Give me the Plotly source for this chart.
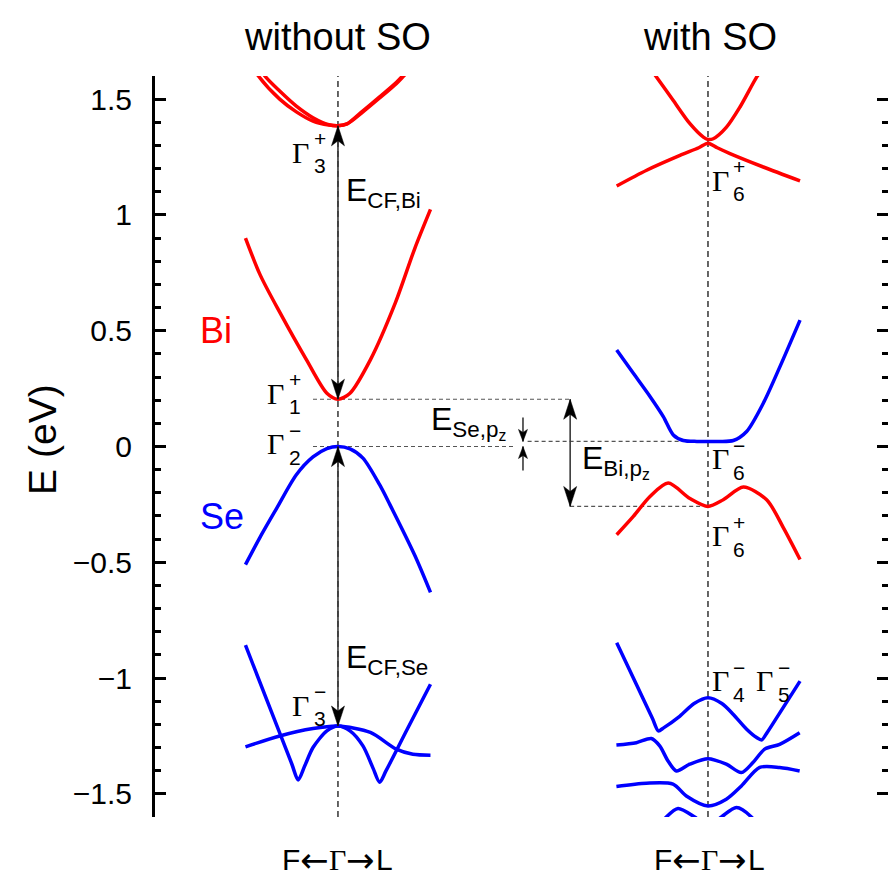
import plotly.graph_objects as go

# ---------------- band data (k in units of the Γ–F / Γ–L segment, E in eV) ----------------
# without spin-orbit coupling
k_bi_g3p_a = [-0.95, -0.86, -0.63, -0.45, -0.27, -0.10, 0.0, 0.10, 0.27, 0.45, 0.63, 0.71, 0.78]
e_bi_g3p_a = [1.66, 1.60, 1.50, 1.445, 1.405, 1.388, 1.385, 1.393, 1.445, 1.505, 1.567, 1.60, 1.63]
k_bi_g3p_b = [-0.86, -0.79, -0.63, -0.45, -0.27, -0.10, 0.0, 0.10, 0.27, 0.45, 0.63, 0.71, 0.78]
e_bi_g3p_b = [1.65, 1.60, 1.535, 1.47, 1.42, 1.39, 1.385, 1.394, 1.45, 1.51, 1.572, 1.605, 1.635]

k_bi_g1p = [-1.0, -0.84, -0.63, -0.34, -0.12, 0.0, 0.13, 0.35, 0.62, 0.83, 1.0]
e_bi_g1p = [0.90, 0.74, 0.58, 0.374, 0.23, 0.204, 0.23, 0.374, 0.62, 0.855, 1.024]

k_se_g2m = [-1.0, -0.84, -0.66, -0.45, -0.27, -0.12, 0.0, 0.13, 0.27, 0.45, 0.56, 0.83, 1.0]
e_se_g2m = [-0.51, -0.39, -0.265, -0.122, -0.045, -0.009, 0.0, -0.01, -0.05, -0.165, -0.25, -0.47, -0.63]

k_se_g3m_flat = [-1.0, -0.63, -0.27, 0.0, 0.35, 0.63, 0.81, 1.0]
e_se_g3m_flat = [-1.297, -1.25, -1.218, -1.207, -1.235, -1.307, -1.329, -1.333]

k_se_g3m_w = [-1.0, -0.72, -0.50, -0.43, -0.36, -0.27, -0.12, 0.0, 0.13, 0.27, 0.38, 0.45, 0.52, 0.75, 1.0]
e_se_g3m_w = [-0.858, -1.145, -1.37, -1.44, -1.38, -1.30, -1.228, -1.207, -1.228, -1.293, -1.39, -1.45, -1.40, -1.22, -1.027]

# with spin-orbit coupling
k_so_bi_up = [-0.62, -0.555, -0.375, -0.195, -0.05, 0.0, 0.057, 0.2, 0.346, 0.526, 0.59]
e_so_bi_up = [1.63, 1.595, 1.494, 1.394, 1.336, 1.326, 1.329, 1.379, 1.466, 1.595, 1.63]
k_so_bi_g6p = [-0.987, -0.663, -0.303, -0.1, 0.0, 0.1, 0.238, 0.598, 0.995]
e_so_bi_g6p = [1.125, 1.193, 1.257, 1.29, 1.31, 1.29, 1.265, 1.207, 1.147]

k_so_se_g6m = [-0.987, -0.807, -0.627, -0.483, -0.375, -0.267, -0.12, 0.0, 0.12, 0.274, 0.418, 0.598, 0.778, 0.995]
e_so_se_g6m = [0.417, 0.316, 0.216, 0.129, 0.05, 0.026, 0.022, 0.022, 0.022, 0.026, 0.065, 0.187, 0.345, 0.546]

k_so_bi_g6p_low = [-0.987, -0.807, -0.627, -0.43, -0.195, 0.0, 0.165, 0.382, 0.634, 0.814, 0.995]
e_so_bi_g6p_low = [-0.381, -0.302, -0.216, -0.158, -0.225, -0.259, -0.23, -0.175, -0.23, -0.35, -0.488]

k_so_se_1 = [-0.987, -0.771, -0.60, -0.537, -0.48, -0.303, -0.15, 0.0, 0.15, 0.274, 0.418, 0.526, 0.58, 0.64, 0.778, 0.995]
e_so_se_1 = [-0.847, -1.03, -1.175, -1.228, -1.215, -1.164, -1.11, -1.085, -1.11, -1.157, -1.221, -1.257, -1.267, -1.235, -1.149, -1.013]
k_so_se_2 = [-0.99, -0.774, -0.612, -0.522, -0.432, -0.342, -0.198, 0.0, 0.198, 0.361, 0.486, 0.613, 0.775, 0.991]
e_so_se_2 = [-1.289, -1.279, -1.261, -1.293, -1.358, -1.401, -1.372, -1.348, -1.372, -1.408, -1.365, -1.307, -1.286, -1.236]
k_so_se_3 = [-0.99, -0.666, -0.378, -0.234, 0.0, 0.198, 0.361, 0.559, 0.775, 0.991]
e_so_se_3 = [-1.468, -1.454, -1.458, -1.509, -1.552, -1.523, -1.466, -1.386, -1.386, -1.401]
k_so_se_4 = [-0.62, -0.45, -0.324, -0.144, 0.0, 0.145, 0.307, 0.469, 0.62]
e_so_se_4 = [-1.69, -1.60, -1.563, -1.60, -1.64, -1.60, -1.559, -1.60, -1.69]

# energy levels at Γ used for the gap markers
E_G3P = 1.385    # Γ3+ (Bi, no SO)
E_G1P = 0.204    # Γ1+ (Bi, no SO)
E_G2M = 0.0      # Γ2- (Se, no SO)
E_G3M = -1.207   # Γ3- (Se, no SO)
E_G6M = 0.022    # Γ6- (with SO)
E_G6P = -0.259   # Γ6+ (with SO)

# y ticks
y_tick_vals = [-1.5, -1.0, -0.5, 0.0, 0.5, 1.0, 1.5]
y_tick_text = ["\u22121.5", "\u22121", "\u22120.5", "0", "0.5", "1", "1.5"]

# k-path label pieces: (text, font family, font size, offset from the Γ centre in px)
k_path_parts = [("F", "sans", 30, -47), ("\u2190", "arrow", 34, -23), ("\u0393", "serif", 30, 0),
                ("\u2192", "arrow", 34, 23), ("L", "sans", 30, 47)]

# ---------------- layout constants ----------------
W, H = 888, 879
ML, MR, MT, MB = 155, 0, 76, 62
X_RANGE = [-1.978, 5.946]
Y_RANGE = [-1.6, 1.6]
G_SO = 4.0            # Γ of the with-SO panel on the shared k axis
X_PZ_SE = 2.0         # x of the small E_Se,pz markers
X_PZ_BI = 2.51        # x of the E_Bi,pz arrow

PX_K = (W - ML - MR) / (X_RANGE[1] - X_RANGE[0])
PX_E = (H - MT - MB) / (Y_RANGE[1] - Y_RANGE[0])

RED = "#ff0000"
BLUE = "#0000ff"
ARROW_GREY = "#3a3a3a"
SANS = "Liberation Sans, Arial, Helvetica, sans-serif"
SERIF = "Liberation Serif, Times New Roman, serif"
ARROWFONT = "DejaVu Sans, sans-serif"
FAMILIES = {"sans": SANS, "serif": SERIF, "arrow": ARROWFONT}

fig = go.Figure()


def band(k, e, color, shift=0.0):
    fig.add_trace(go.Scatter(
        x=[v + shift for v in k], y=e, mode="lines",
        line=dict(color=color, width=3.5, shape="spline", smoothing=0.8),
        hoverinfo="skip", showlegend=False))


band(k_bi_g3p_a, e_bi_g3p_a, RED)
band(k_bi_g3p_b, e_bi_g3p_b, RED)
band(k_bi_g1p, e_bi_g1p, RED)
band(k_se_g2m, e_se_g2m, BLUE)
band(k_se_g3m_flat, e_se_g3m_flat, BLUE)
band(k_se_g3m_w, e_se_g3m_w, BLUE)

band(k_so_bi_up, e_so_bi_up, RED, G_SO)
band(k_so_bi_g6p, e_so_bi_g6p, RED, G_SO)
band(k_so_se_g6m, e_so_se_g6m, BLUE, G_SO)
band(k_so_bi_g6p_low, e_so_bi_g6p_low, RED, G_SO)
band(k_so_se_1, e_so_se_1, BLUE, G_SO)
band(k_so_se_2, e_so_se_2, BLUE, G_SO)
band(k_so_se_3, e_so_se_3, BLUE, G_SO)
band(k_so_se_4, e_so_se_4, BLUE, G_SO)

# invisible trace so the right-hand tick axis is drawn
fig.add_trace(go.Scatter(x=[0], y=[0], yaxis="y2", mode="markers",
                         marker=dict(opacity=0), hoverinfo="skip", showlegend=False))

# ---------------- guide lines ----------------
for xg in (0.0, G_SO):
    fig.add_shape(type="line", x0=xg, x1=xg, y0=Y_RANGE[0], y1=Y_RANGE[1],
                  line=dict(color="black", width=1.2, dash="6px,4px"), layer="below")

dotted = dict(color="#555555", width=1.2, dash="4px,3px")
fig.add_shape(type="line", x0=-0.27, x1=X_PZ_BI, y0=E_G1P, y1=E_G1P, line=dotted, layer="below")
fig.add_shape(type="line", x0=-0.27, x1=1.92, y0=E_G2M, y1=E_G2M, line=dotted, layer="below")
fig.add_shape(type="line", x0=2.05, x1=G_SO, y0=E_G6M, y1=E_G6M, line=dotted, layer="below")
fig.add_shape(type="line", x0=X_PZ_BI, x1=G_SO, y0=E_G6P, y1=E_G6P, line=dotted, layer="below")


# ---------------- arrows ----------------
def arrow_head(x, tip, d, length=20.0, half=6.5, notch=5.0):
    dy = length / PX_E
    dn = (length - notch) / PX_E
    hw = half / PX_K
    path = (f"M{x},{tip}L{x - hw},{tip - d * dy}L{x},{tip - d * dn}"
            f"L{x + hw},{tip - d * dy}Z")
    fig.add_shape(type="path", path=path, xref="x", yref="y",
                  fillcolor="black", line=dict(color="black", width=0.5), layer="above")


def v_arrow(x, y_from, y_to, both=True, **head):
    fig.add_shape(type="line", x0=x, x1=x, y0=y_from, y1=y_to,
                  line=dict(color=ARROW_GREY, width=1.6), layer="above")
    d = 1 if y_to > y_from else -1
    arrow_head(x, y_to, d, **head)
    if both:
        arrow_head(x, y_from, -d, **head)


v_arrow(0.0, E_G1P, E_G3P)                      # E_CF,Bi
v_arrow(0.0, E_G2M, E_G3M)                      # E_CF,Se
v_arrow(X_PZ_BI, E_G1P, E_G6P)                  # E_Bi,pz
small = dict(length=12.0, half=4.5, notch=3.0)
tail = 24.0 / PX_E
v_arrow(X_PZ_SE, E_G6M + tail, E_G6M, both=False, **small)   # E_Se,pz (from above)
v_arrow(X_PZ_SE, E_G2M - tail, E_G2M, both=False, **small)   # E_Se,pz (from below)


# ---------------- text ----------------
def label(x, y, text, size, color="black", family=SANS, **kw):
    fig.add_annotation(x=x, y=y, text=text, showarrow=False,
                       font=dict(size=size, color=color, family=family), **kw)


def gamma(x, y, sub, sup):
    # Γ with stacked superscript / subscript
    label(x, y, "\u0393", 30, family=SERIF)
    label(x, y, f"{sup}<br>{sub}", 21, xanchor="left", xshift=11, align="left")


gamma(-0.40, 1.27, "3", "+")
gamma(-0.67, 0.231, "1", "+")
gamma(-0.67, 0.012, "2", "\u2212")
gamma(-0.40, -1.118, "3", "\u2212")
gamma(G_SO + 0.13, 1.149, "6", "+")
gamma(G_SO + 0.13, -0.053, "6", "\u2212")
gamma(G_SO + 0.13, -0.385, "6", "+")
gamma(G_SO + 0.13, -1.011, "4", "\u2212")
gamma(G_SO + 0.616, -1.011, "5", "\u2212")

label(0.06, 1.097, "E<sub>CF,Bi</sub>", 32, xanchor="left")
label(0.06, -0.92, "E<sub>CF,Se</sub>", 32, xanchor="left")
label(0.98, 0.105, "E<sub>Se,p<sub>z</sub></sub>", 32, xanchor="left")
label(2.62, -0.066, "E<sub>Bi,p<sub>z</sub></sub>", 32, xanchor="left")

label(-1.319, 0.503, "Bi", 36, color=RED)
label(-1.254, -0.303, "Se", 36, color=BLUE)

fig.add_annotation(x=-0.1537, xref="paper", xanchor="center", y=0.03, yref="y",
                   yanchor="middle", text="E (eV)", textangle=-90, showarrow=False,
                   font=dict(size=39, family=SANS, color="black"))

for xg, title in ((0.0, "without SO"), (G_SO + 0.02, "with SO")):
    fig.add_annotation(x=xg, xref="x", xanchor="center", y=1.053, yref="paper",
                       yanchor="middle", text=title, showarrow=False,
                       font=dict(size=38, family=SANS, color="black"))
    for txt, fam, size, dx in k_path_parts:
        fig.add_annotation(x=xg, xref="x", xanchor="center", xshift=dx,
                           y=-0.0575, yref="paper", yanchor="middle", showarrow=False,
                           borderpad=0, text=txt,
                           font=dict(size=size, family=FAMILIES[fam], color="black"))

# ---------------- axes ----------------
tick_common = dict(
    range=Y_RANGE, ticks="inside", ticklen=11, tickwidth=3, tickcolor="black",
    tickvals=y_tick_vals, showgrid=False, zeroline=False,
    minor=dict(dtick=0.1, tick0=0, ticks="inside", ticklen=6, tickwidth=2.5,
               tickcolor="black", showgrid=False),
)

fig.update_layout(
    width=W, height=H,
    margin=dict(l=ML, r=MR, t=MT, b=MB),
    paper_bgcolor="white", plot_bgcolor="white",
    font=dict(family=SANS, color="black"),
    showlegend=False,
    xaxis=dict(range=X_RANGE, visible=False, fixedrange=True),
    yaxis=dict(**tick_common, ticktext=y_tick_text, showline=True, linewidth=3,
               linecolor="black", ticklabelstandoff=14,
               tickfont=dict(size=30, family=SANS, color="black")),
    yaxis2=dict(**tick_common, overlaying="y", side="right", anchor="x",
                showline=False, showticklabels=False),
)

fig.write_html("out.html")
